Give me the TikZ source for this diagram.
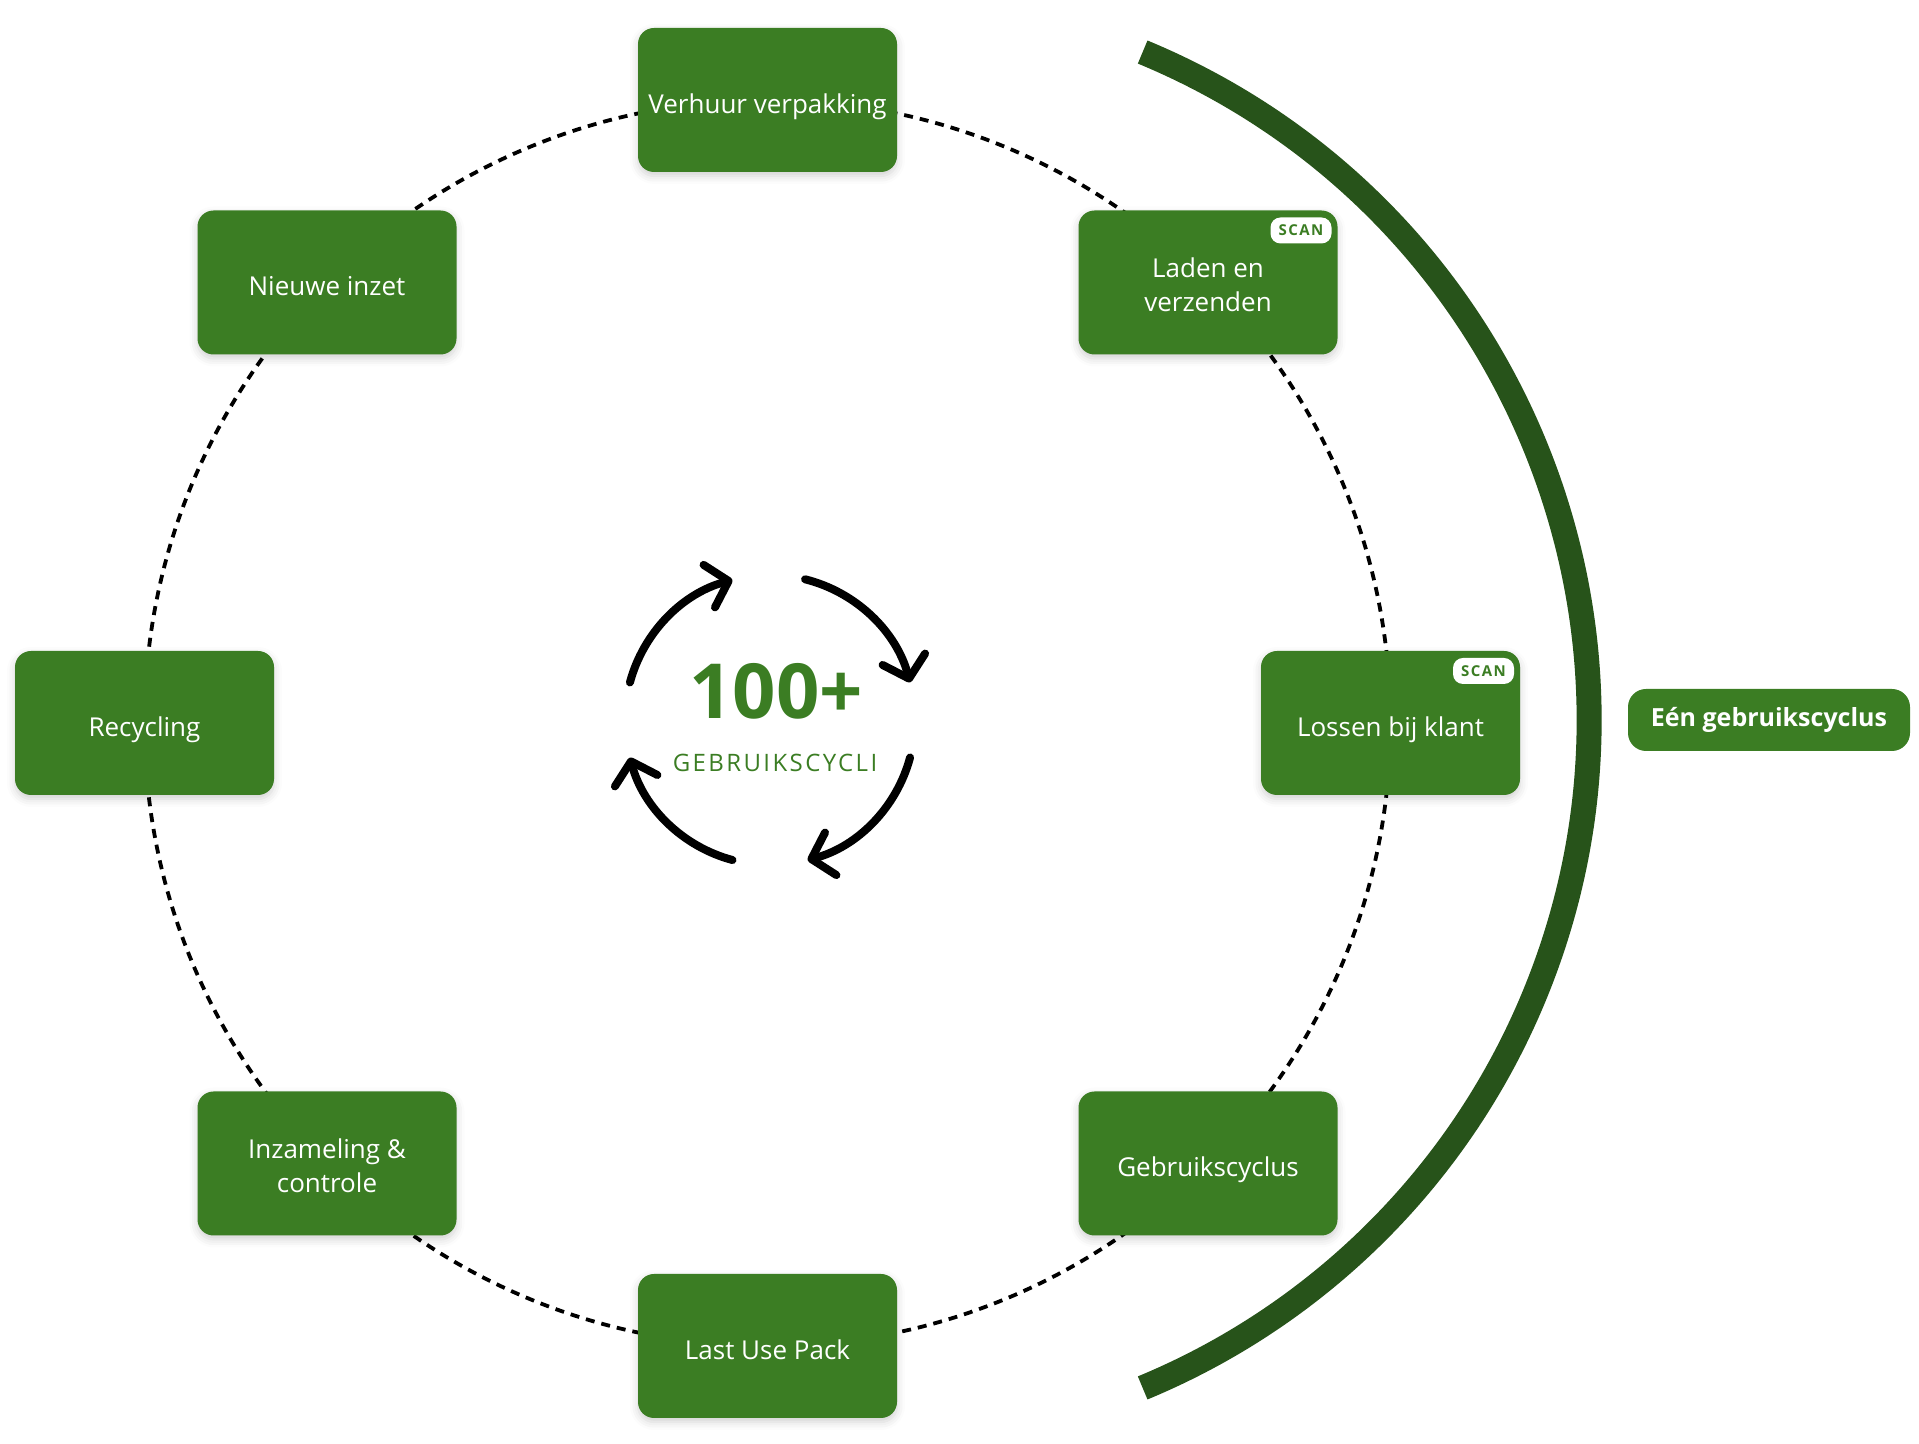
\documentclass[tikz,border=0pt]{standalone}
\usepackage{fontspec}
\setmainfont{Open Sans}
\newfontfamily\spacedfont[LetterSpace=10]{Open Sans}
\usetikzlibrary{arrows.meta,shadows.blur}
\definecolor{leafgreen}{RGB}{59,125,35}
\definecolor{darkleaf}{RGB}{39,83,26}

\begin{document}
\begin{tikzpicture}[x=0.5pt,y=0.5pt,
  stepbox/.style={fill=leafgreen, rounded corners=8pt, minimum width=129.5pt, minimum height=72pt,
    text=white, align=center, font=\fontsize{13}{17}\selectfont, text height=13.5pt, text depth=0pt,
    blur shadow={shadow xshift=0pt, shadow yshift=-2pt, shadow blur radius=4pt, shadow opacity=18}},
  twoline/.style={text height=29pt, text depth=0pt},
  scanbadge/.style={fill=white, rounded corners=5pt, minimum width=30.5pt, minimum height=13pt,
    inner sep=0pt, anchor=north east, text=leafgreen, font=\spacedfont\fontsize{7.5}{8}\selectfont\bfseries},
  cyclearrow/.style={line width=4pt, line cap=round, -{Straight Barb[length=10pt,width=22pt,round]}}]
\useasboundingbox (0,0) rectangle (1919,1444);
\coordinate (ring) at (767.5,721);
\coordinate (arcc) at (866,724);
\coordinate (icon) at (770,724);
\draw[line width=1.9pt, dash pattern=on 4.5pt off 3.5pt] (ring) circle[radius=623];
\draw[darkleaf, line width=12.5pt] ([shift={(67.5:723)}]arcc) arc[start angle=67.5, end angle=-67.5, radius=723];
\node[stepbox] (verhuur) at (767.5,1344) {Verhuur verpakking};
\node[stepbox, twoline] (laden) at (1208,1161.5) {Laden en\\verzenden};
\node[stepbox] (lossen) at (1390.5,721) {Lossen bij klant};
\node[stepbox] (gebruik) at (1208,280.5) {Gebruikscyclus};
\node[stepbox] (lastuse) at (767.5,98) {Last Use Pack};
\node[stepbox, twoline] (inzameling) at (327,280.5) {Inzameling \&\\controle};
\node[stepbox] (recycling) at (144.5,721) {Recycling};
\node[stepbox] (nieuwe) at (327,1161.5) {Nieuwe inzet};
\node[scanbadge] (scanladen) at ([shift={(-3pt,-3.5pt)}]laden.north east) {SCAN};
\node[scanbadge] (scanlossen) at ([shift={(-3pt,-3.5pt)}]lossen.north east) {SCAN};
\node[fill=leafgreen, rounded corners=9pt, minimum width=141pt, minimum height=31pt, text=white,
  font=\fontsize{12.5}{14}\selectfont\bfseries] (eencyclus) at (1769,724) {Eén gebruikscyclus};
\node[text=leafgreen, font=\fontsize{38}{40}\selectfont\bfseries] (count) at (776,752.5) {100+};
\node[text=leafgreen, font=\spacedfont\fontsize{12}{14}\selectfont] (cycli) at (775,681.5) {GEBRUIKSCYCLI};
\draw[cyclearrow] ([shift={(165:145)}]icon) arc[start angle=165, end angle=105, radius=145];
\draw[cyclearrow] ([shift={(76:145)}]icon) arc[start angle=76, end angle=15, radius=145];
\draw[cyclearrow] ([shift={(-15:145)}]icon) arc[start angle=-15, end angle=-75, radius=145];
\draw[cyclearrow] ([shift={(-105:145)}]icon) arc[start angle=-105, end angle=-165, radius=145];
\end{tikzpicture}
\end{document}
